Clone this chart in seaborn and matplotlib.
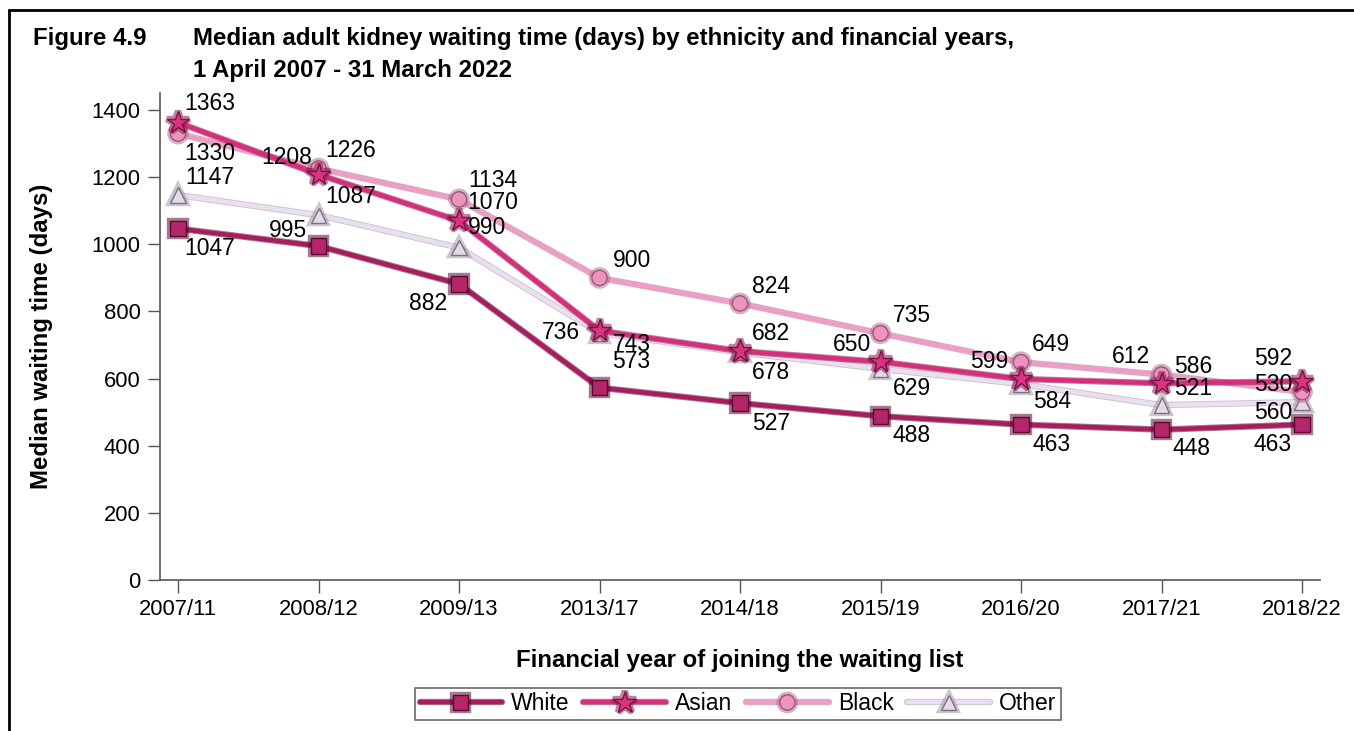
import matplotlib
matplotlib.use("Agg")
import matplotlib.pyplot as plt
import matplotlib.patheffects as pe
from matplotlib.lines import Line2D
import seaborn as sns
import pandas as pd

# ---- data ----
years = ["2007/11", "2008/12", "2009/13", "2013/17", "2014/18",
         "2015/19", "2016/20", "2017/21", "2018/22"]
white = [1047, 995, 882, 573, 527, 488, 463, 448, 463]
asian = [1363, 1208, 1070, 743, 682, 650, 599, 586, 592]
black = [1330, 1226, 1134, 900, 824, 735, 649, 612, 560]
other = [1147, 1087, 990, 736, 678, 629, 584, 521, 530]
groups = ["White", "Asian", "Black", "Other"]
yticks = [0, 200, 400, 600, 800, 1000, 1200, 1400]

# label offsets in pixels (style only)
off_white = [(32, -20), (-30, 16), (-31, -20), (32, 26), (31, -20), (31, -19), (31, -20), (30, -19), (-29, -20)]
off_asian = [(32, 19), (-32, 17), (34, 18), (32, -14), (31, 18), (-29, 17), (-32, 17), (32, 17), (-29, 23)]
off_black = [(32, -20), (32, 18), (34, 19), (32, 17), (31, 17), (31, 18), (30, 18), (-31, 18), (-29, -20)]
off_other = [(32, 18), (32, 19), (28, 20), (-39, 0), (31, -20), (31, -20), (31, -18), (32, 17), (-29, 18)]

sns.set_theme(style="white")
plt.rcParams['font.family'] = ['Liberation Sans', 'DejaVu Sans']
plt.rcParams['text.color'] = 'black'
plt.rcParams['xtick.color'] = 'black'
plt.rcParams['ytick.color'] = 'black'
plt.rcParams['axes.labelcolor'] = 'black'

df = pd.DataFrame({
    "year": years * 4,
    "pos": list(range(len(years))) * 4,
    "value": white + asian + black + other,
    "group": sum([[g] * len(years) for g in groups], []),
})

styles = {
    "White": dict(line="#A81C60", edge="#5e0b33", face="#B3266C", medge="#5a0a30", marker="s", ms=11),
    "Asian": dict(line="#D62E7C", edge="#8c1a4e", face="#D8347F", medge="#7a1444", marker="*", ms=17),
    "Black": dict(line="#EE9DC5", edge="#b56f92", face="#EC93BF", medge="#9c5678", marker="o", ms=11),
    "Other": dict(line="#EADFEE", edge="#a596a8", face="#E6DAEA", medge="#7d717f", marker="^", ms=11),
}
offsets = {"White": off_white, "Asian": off_asian, "Black": off_black, "Other": off_other}

fig = plt.figure(figsize=(13.54, 7.31), dpi=100)
ax = fig.add_axes([160/1354, 1-580/731, (1320-160)/1354, (580-93)/731])

draw_order = ["Other", "Black", "Asian", "White"]
for g in draw_order:
    s = styles[g]
    sub = df[df.group == g]
    sns.lineplot(data=sub, x="pos", y="value", ax=ax, color=s["line"], lw=3.2,
                 marker=s["marker"], markersize=s["ms"], markerfacecolor=s["face"],
                 markeredgecolor=s["medge"], markeredgewidth=1.0,
                 legend=False, zorder=3 if g != "Other" else 2,
                 path_effects=[pe.Stroke(linewidth=4.6, foreground=s["edge"], alpha=0.55), pe.Normal()])

for g in groups:
    sub = df[df.group == g].reset_index(drop=True)
    for i, row in sub.iterrows():
        dx, dy = offsets[g][i]
        ax.annotate(f"{row['value']}", (row["pos"], row["value"]), xytext=(dx, dy),
                    textcoords="offset pixels", ha="center", va="center",
                    fontsize=16.5, color="black", zorder=5)

ax.set_xlim(-18/140.5, 8 + 18/140.5)
ax.set_ylim(0, 1451)
ax.set_xticks(range(len(years)))
ax.set_xticklabels(years, fontsize=15.8)
ax.set_yticks(yticks)
ax.set_yticklabels([str(v) for v in yticks], fontsize=15.8)
ax.tick_params(axis="both", which="both", length=9, width=1, color="#555555",
               direction="out", bottom=True, left=True, pad=5)
for sp in ["top", "right"]:
    ax.spines[sp].set_visible(False)
for sp in ["left", "bottom"]:
    ax.spines[sp].set_color("#555555")
    ax.spines[sp].set_linewidth(1.2)
ax.set_xlabel("Financial year of joining the waiting list", fontsize=17.3, fontweight="bold")
ax.set_ylabel("Median waiting time (days)", fontsize=17.3, fontweight="bold")
ax.xaxis.set_label_coords((740-160)/1160, (580-661)/487)
ax.yaxis.set_label_coords((42-160)/1160, (580-336)/487)
ax.xaxis.label.set_va("center")
ax.yaxis.label.set_va("center")
ax.grid(False)

# title
fig.text(33/1354, 1-38/731, "Figure 4.9", fontsize=17.3, fontweight="bold", va="center", ha="left")
fig.text(193/1354, 1-38/731, "Median adult kidney waiting time (days) by ethnicity and financial years,",
         fontsize=17.3, fontweight="bold", va="center", ha="left")
fig.text(193/1354, 1-70/731, "1 April 2007 - 31 March 2022",
         fontsize=17.3, fontweight="bold", va="center", ha="left")

# frame lines
fig.add_artist(Line2D([9/1354, 9/1354], [0, 1-10/731], color="black", lw=2))
fig.add_artist(Line2D([9/1354, 1], [1-10/731, 1-10/731], color="black", lw=2))

# legend
handles = []
for g in groups:
    s = styles[g]
    handles.append(Line2D([0], [0], color=s["line"], lw=3.2, marker=s["marker"],
                          markersize=s["ms"], markerfacecolor=s["face"],
                          markeredgecolor=s["medge"],
                          path_effects=[pe.Stroke(linewidth=4.6, foreground=s["edge"], alpha=0.55), pe.Normal()]))
leg = fig.legend(handles, groups, loc="center", bbox_to_anchor=(738/1354, 1-704/731),
                 ncol=4, frameon=True, fontsize=16.5, handlelength=3.6, handletextpad=0.4,
                 columnspacing=0.6, borderpad=0.2, fancybox=False, edgecolor="#444444")
leg.get_frame().set_linewidth(1.2)

fig.savefig("out.png", dpi=100, facecolor="white")
